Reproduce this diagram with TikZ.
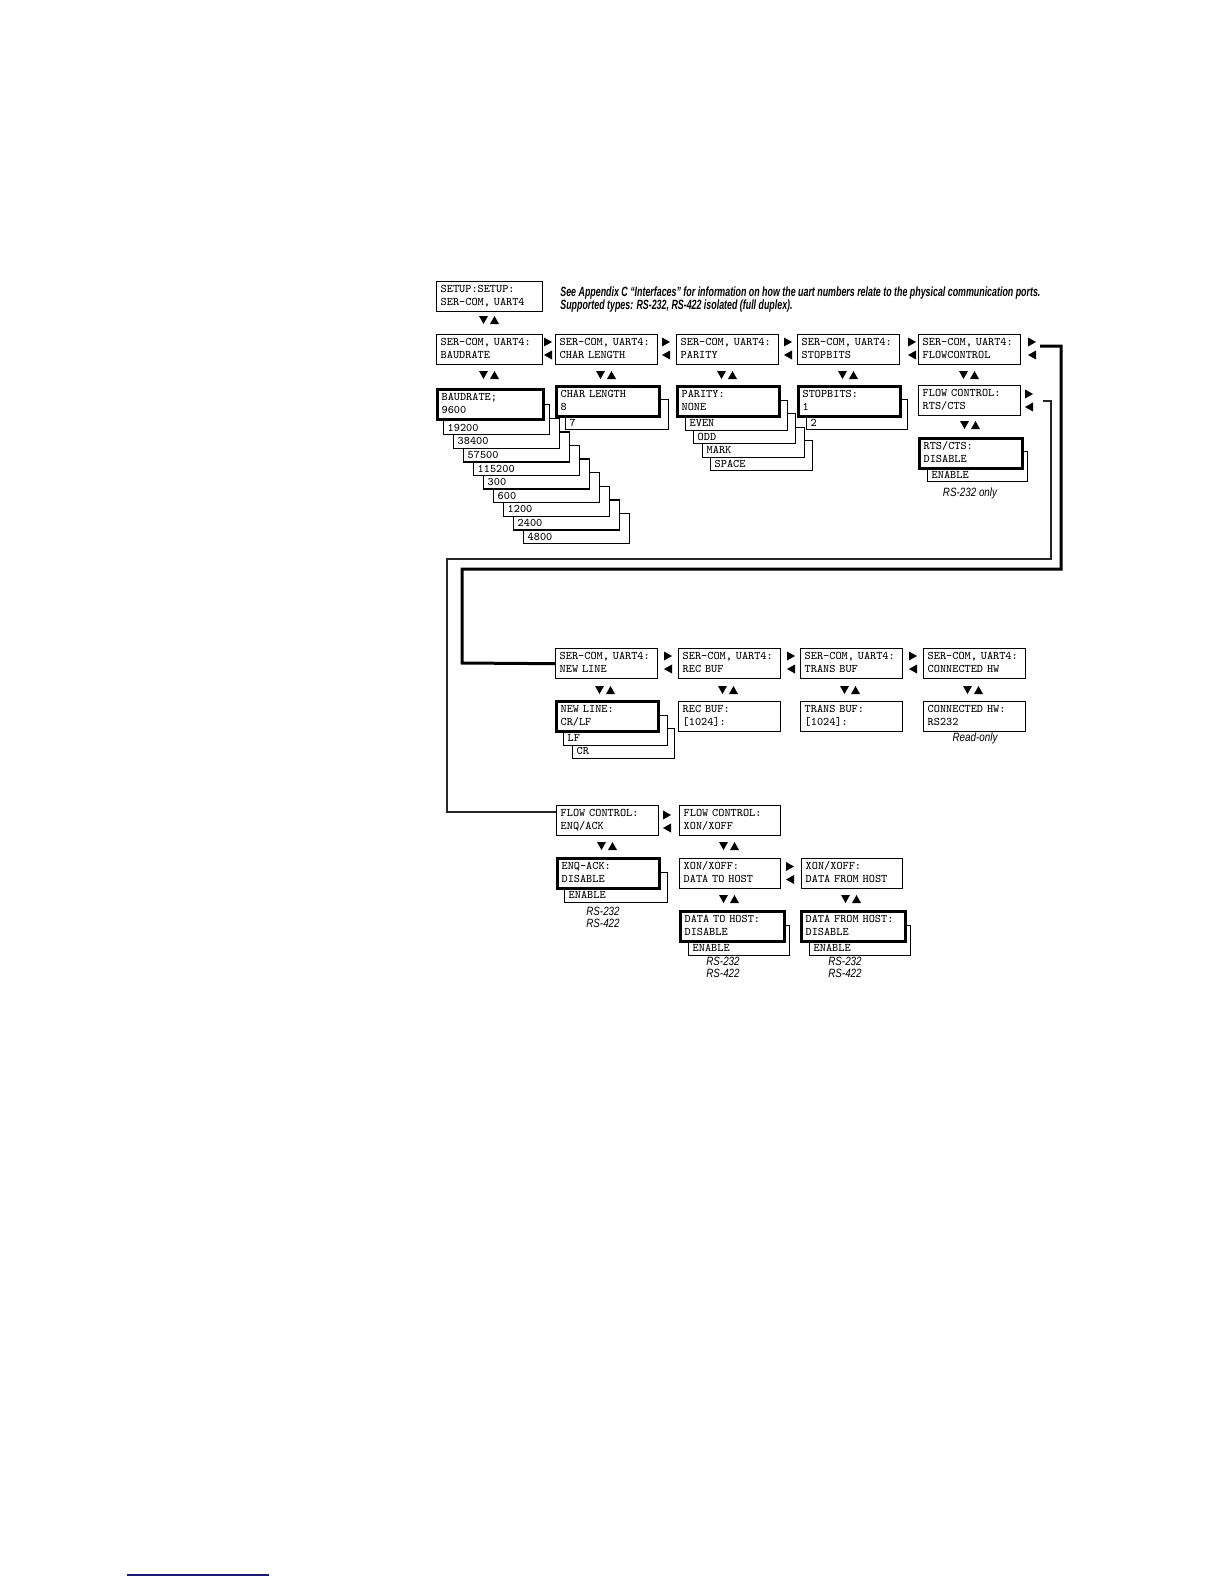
\documentclass[tikz,border=0pt]{standalone}
\usepackage{fontspec}
\newfontfamily\capfont{Liberation Sans}
\usetikzlibrary{calc}
\definecolor{navyline}{RGB}{25,25,120}
\newcommand\lcdfont{\fontsize{5.8}{6.5}\selectfont\ttfamily}
\newcommand\twol[2]{\strut #1\\\strut #2}
\newcommand\cond[1]{\scalebox{0.82}[1]{#1}}
\begin{document}
\begin{tikzpicture}[x=0.5pt,y=-0.5pt,
  lcd/.style={draw, line width=0.7pt, fill=white, anchor=north west, minimum height=15pt,
    inner xsep=2pt, inner ysep=0pt, align=left, font=\lcdfont, text width=47pt},
  casc/.style={lcd, text height=12.25pt, text depth=0.75pt},
  sel/.style={lcd, line width=1.6pt},
  note/.style={font=\capfont\itshape\fontsize{6}{6.2}\selectfont, align=center, inner sep=0pt},
  loopA/.style={line width=1.5pt},
  loopB/.style={line width=0.8pt, black!85},
  vud/.pic={\fill (-10,-4) -- (-1,-4) -- (-5.5,4) -- cycle; \fill (1,4) -- (10,4) -- (5.5,-4) -- cycle;},
  hlr/.pic={\fill (-4,-11) -- (-4,-2) -- (4,-6.5) -- cycle; \fill (4,2) -- (4,11) -- (-4,6.5) -- cycle;}
]
\useasboundingbox (0,0) rectangle (1224,1584);

% top note
\node[anchor=base west, inner sep=0pt] (topnote) at (560,296)
  {\resizebox{240pt}{\height}{\capfont\bfseries\itshape\fontsize{6.7}{6.5}\selectfont
   \begin{tabular}[t]{@{}l@{}}See Appendix C “Interfaces” for information on how the uart numbers relate to the physical communication ports.\\
   Supported types: RS-232, RS-422 isolated (full duplex).\end{tabular}}};

% setup
\node[lcd, text width=49pt] (setup) at (436,281) {\twol{SETUP:SETUP:}{SER-COM, UART4}};
\pic at (489,320) {vud};

% row 1
\node[lcd, text width=49pt] (baud) at (436,334) {\twol{SER-COM, UART4:}{BAUDRATE}};
\node[lcd] (clen) at (555,334) {\twol{SER-COM, UART4:}{CHAR LENGTH}};
\node[lcd] (par) at (676,334) {\twol{SER-COM, UART4:}{PARITY}};
\node[lcd] (stop) at (797,334) {\twol{SER-COM, UART4:}{STOPBITS}};
\node[lcd] (flow) at (918,334) {\twol{SER-COM, UART4:}{FLOWCONTROL}};
\foreach \x in {548,666,788,912,1032} \pic at (\x,348.5) {hlr};
\foreach \x in {489,606,727,848,969} \pic at (\x,375) {vud};

% baudrate
\foreach \v/\i in {4800/9,2400/8,1200/7,600/6,300/5,115200/4,57500/3,38400/2,19200/1}
  \node[casc, text width=49pt] (bc\i) at ({443+10*(\i-1)},{404+13.6*(\i-1)}) {\strut\v};
\node[sel, text width=49pt] (baudsel) at (436,388) {\twol{BAUDRATE;}{9600}};

% char length
\node[casc, text width=47.5pt] (cc1) at (565,399) {\strut 7};
\node[sel, text width=47.5pt] (clensel) at (555,385) {\twol{CHAR LENGTH}{8}};

% parity
\node[casc] (pc4) at (710,440) {\strut SPACE};
\node[casc] (pc3) at (702,426.5) {\strut MARK};
\node[casc] (pc2) at (693,413) {\strut ODD};
\node[casc] (pc1) at (685,399.5) {\strut EVEN};
\node[sel] (parsel) at (676,385) {\twol{PARITY:}{NONE}};

% stopbits
\node[casc, text width=46.5pt] (sc1) at (806,399) {\strut 2};
\node[sel] (stopsel) at (797,385) {\twol{STOPBITS:}{1}};

% flow control
\node[lcd] (fsub) at (918,385) {\twol{FLOW CONTROL:}{RTS/CTS}};
\pic at (1029,400.5) {hlr};
\pic at (970,425) {vud};
\node[casc, text width=46pt] (rc1) at (927,451) {\strut ENABLE};
\node[sel, text width=47.5pt] (rtssel) at (918,437) {\twol{RTS/CTS:}{DISABLE}};
\node[note] (n1) at (970,493) {\cond{RS-232 only}};

% row 3
\node[lcd] (nl) at (555,648) {\twol{SER-COM, UART4:}{NEW LINE}};
\node[lcd] (rb) at (678,648) {\twol{SER-COM, UART4:}{REC BUF}};
\node[lcd] (tb) at (800,648) {\twol{SER-COM, UART4:}{TRANS BUF}};
\node[lcd] (ch) at (923,648) {\twol{SER-COM, UART4:}{CONNECTED HW}};
\foreach \x in {668,791,913} \pic at (\x,662.5) {hlr};
\foreach \x in {605,728,850,973} \pic at (\x,690) {vud};

\node[casc] (nc2) at (572,727.5) {\strut CR};
\node[casc, text width=48pt] (nc1) at (563,714.5) {\strut LF};
\node[sel] (nlsel) at (555,700) {\twol{NEW LINE:}{CR/LF}};
\node[lcd] (rbv) at (678,701) {\twol{REC BUF:}{[1024]:}};
\node[lcd] (tbv) at (800,701) {\twol{TRANS BUF:}{[1024]:}};
\node[lcd] (chv) at (923,701) {\twol{CONNECTED HW:}{RS232}};
\node[note] (n2) at (975,738) {\cond{Read-only}};

% row 4
\node[lcd] (enq) at (556,805) {\twol{FLOW CONTROL:}{ENQ/ACK}};
\node[lcd, text width=46.5pt] (xon) at (679,805) {\twol{FLOW CONTROL:}{XON/XOFF}};
\pic at (667,821.5) {hlr};
\pic at (607,846) {vud};
\pic at (729,846) {vud};

% row 5
\node[casc, text width=47.5pt] (ec1) at (564,871.5) {\strut ENABLE};
\node[sel] (enqsel) at (556,857) {\twol{ENQ-ACK:}{DISABLE}};
\node[note] (n3) at (603,919) {\cond{\begin{tabular}{@{}c@{}}RS-232\\RS-422\end{tabular}}};
\node[lcd, text width=46.5pt] (xth) at (679,858) {\twol{XON/XOFF:}{DATA TO HOST}};
\node[lcd, text width=46.5pt] (xfh) at (801,858) {\twol{XON/XOFF:}{DATA FROM HOST}};
\pic at (790,873) {hlr};
\pic at (729,899) {vud};
\pic at (851,899) {vud};

% row 6
\node[casc, text width=46.5pt] (tc1) at (688,924.5) {\strut ENABLE};
\node[sel, text width=48pt] (thsel) at (679,910) {\twol{DATA TO HOST:}{DISABLE}};
\node[casc, text width=46.5pt] (fc1) at (809,924.5) {\strut ENABLE};
\node[sel, text width=48pt] (fhsel) at (800,910) {\twol{DATA FROM HOST:}{DISABLE}};
\node[note] (n4) at (723,969) {\cond{\begin{tabular}{@{}c@{}}RS-232\\RS-422\end{tabular}}};
\node[note] (n5) at (845,969) {\cond{\begin{tabular}{@{}c@{}}RS-232\\RS-422\end{tabular}}};

% connectors
\coordinate (la) at (1040,346);
\draw[loopA] (la) -- (1061,346) -- (1061,569) -- (462,569) -- (462,663) -- (nl.west);
\coordinate (lb) at (1043,401);
\coordinate (lbe) at (447,812);
\draw[loopB] (lb) -- (1051,401) -- (1051,559) -- (447,559) -- (lbe) -- (enq.west |- lbe);

% footer rule
\coordinate (fr1) at (127,1575);
\coordinate (fr2) at (269,1575);
\draw[navyline, line width=0.8pt] (fr1) -- (fr2);
\end{tikzpicture}
\end{document}
